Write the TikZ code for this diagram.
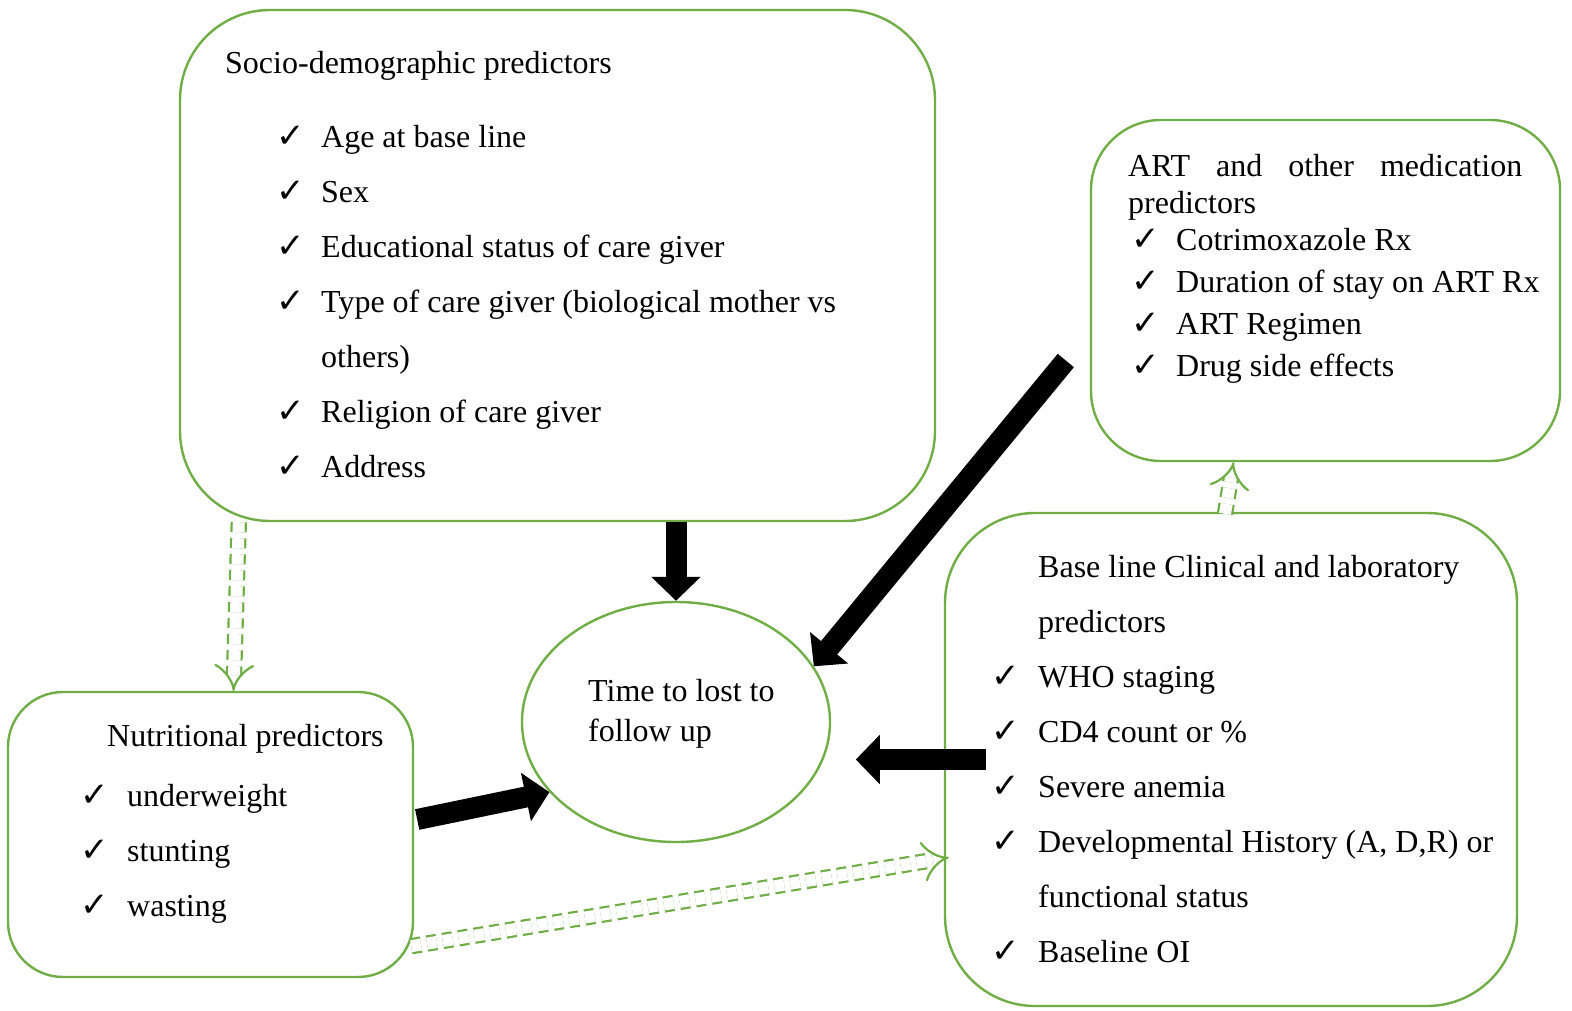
\documentclass[tikz,border=0pt]{standalone}
\usepackage{fontspec}
\setmainfont{Liberation Serif}
\newfontfamily\checkfont{DejaVu Sans}
\usetikzlibrary{shapes,arrows.meta,positioning,calc}
\definecolor{grn}{RGB}{112,173,71}
\newcommand{\chk}[1][45pt]{\makebox[#1][l]{\checkfont\fontsize{34}{34}\selectfont ✓}}
\hyphenpenalty=10000

\begin{document}
\begin{tikzpicture}[x=1pt,y=-1pt,
    box/.style={draw=grn,line width=2.4pt,rounded corners=#1,inner sep=0pt},
    txt/.style={inner sep=0pt,align=left,font=\fontsize{32}{55}\selectfont},
    blk/.style={line width=21pt,-{Triangle[length=24pt,width=48pt]}},
    dbl/.style={draw=grn,line width=2.2pt,double=white,double distance=12pt,
                dash pattern=on 10pt off 6pt,-{Implies}}]
  \useasboundingbox (0,0) rectangle (1572,1011);

  % boxes
  \node[box=90pt,minimum width=755pt,minimum height=511pt] (socio) at (557.5,265.5) {};
  \node[box=70pt,minimum width=469pt,minimum height=341pt] (art) at (1325.5,290.5) {};
  \node[box=90pt,minimum width=572pt,minimum height=493pt] (baseline) at (1231,759.5) {};
  \node[box=55pt,minimum width=405pt,minimum height=285pt] (nutri) at (210.5,834.5) {};
  \node[draw=grn,line width=2.4pt,ellipse,minimum width=308pt,minimum height=240pt]
       (timeloss) at (676,722) {};

  % texts
  \node[txt,anchor=north west,font=\fontsize{32}{40}\selectfont] (timetext) at (588,679)
       {Time to lost to\\follow up};
  \node[txt,anchor=north west] (sociotitle) at (225,51) {Socio-demographic predictors};
  \node[txt,anchor=north west] (socioitems) at (276,125)
       {\chk Age at base line\\
        \chk Sex\\
        \chk Educational status of care giver\\
        \chk Type of care giver (biological mother vs\\
        \hspace*{45pt}others)\\
        \chk Religion of care giver\\
        \chk Address};
  \node[txt,anchor=north west,align=justify,text width=394pt,
        font=\fontsize{32}{37}\selectfont] (arttitle) at (1128,154)
       {ART and other medication predictors};
  \node[txt,anchor=north west,font=\fontsize{32}{42}\selectfont] (artitems) at (1131,228)
       {\chk Cotrimoxazole Rx\\
        \chk Duration of stay on ART Rx\\
        \chk ART Regimen\\
        \chk Drug side effects};
  \node[txt,anchor=north west] (baseitems) at (991,555)
       {\hspace*{47pt}Base line Clinical and laboratory\\
        \hspace*{47pt}predictors\\
        \chk[47pt]WHO staging\\
        \chk[47pt]CD4 count or \%\\
        \chk[47pt]Severe anemia\\
        \chk[47pt]Developmental History (A, D,R) or\\
        \hspace*{47pt}functional status\\
        \chk[47pt]Baseline OI};
  \node[txt,anchor=north west] (nutrititle) at (107,724) {Nutritional predictors};
  \node[txt,anchor=north west] (nutriitems) at (80,784)
       {\chk[47pt]underweight\\
        \chk[47pt]stunting\\
        \chk[47pt]wasting};

  % thick arrows
  \draw[blk] (socio.south -| timeloss.north) -- (timeloss.north);
  \draw[blk] ($(art.west)+(-24,70)$) -- (timeloss.22);
  \draw[blk] ($(baseline.west)+(42,0)$) -- ($(baseline.west)+(-88,0)$);
  \draw[blk] ($(nutri.east)+(3,-15)$) -- (timeloss.209);

  % dashed links
  \draw[dbl] ($(socio.south west)+(60,0)$) -- ($(nutri.north)+(23,0)$);
  \draw[dbl] ($(baseline.north)+(-6,2)$) -- ($(art.south)+(-92,0)$);
  \draw[dbl] ($(nutri.south east)+(-3,-32)$) -- ($(baseline.west)+(5,98)$);
\end{tikzpicture}
\end{document}
